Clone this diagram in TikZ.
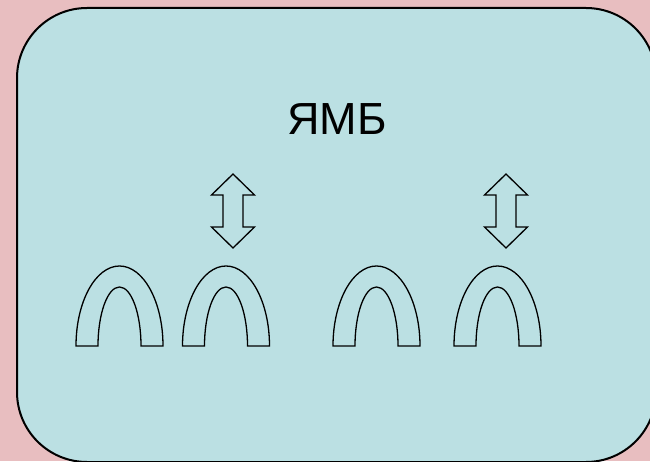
\documentclass[tikz,border=0pt]{standalone}
\usepackage{fontspec}
\setmainfont{Liberation Sans}
\definecolor{pinkbg}{HTML}{E8BEC0}
\definecolor{cyanbox}{HTML}{BBE0E3}
\tikzset{%
  % Specifications for style of shapes:
       outline/.style = {draw=black, line width=1.3pt, line join=miter},
        panel/.style = {draw=black, line width=2pt, fill=cyanbox,
                        rounded corners=70pt},
  arch/.pic = {
    \path[outline] (-43.5,0) arc[start angle=180, end angle=0,
                                 x radius=43.5pt, y radius=80pt]
          -- (21.5,0) arc[start angle=0, end angle=180,
                          x radius=21.5pt, y radius=59pt] -- cycle;
  },
  updown/.pic = {
    \path[outline] (0,37) -- (21.5,16) -- (10,16) -- (10,-16) -- (21.5,-16)
          -- (0,-37) -- (-21.5,-16) -- (-10,-16) -- (-10,16) -- (-21.5,16)
          -- cycle;
  },
}
\begin{document}
\begin{tikzpicture}[x=1pt, y=1pt]
\useasboundingbox (0,0) rectangle (650,461);
\fill[pinkbg] (0,0) rectangle (650,461);

\draw[panel] (17,453) rectangle (656,-1);

\node (title) at (337,342) {\fontsize{45}{54}\selectfont ЯМБ};

\pic (swapA) at (233,250) {updown};
\pic (swapB) at (506,250) {updown};

\pic (footA) at (119.5,115) {arch};
\pic (footB) at (226,115)   {arch};
\pic (footC) at (376.5,115) {arch};
\pic (footD) at (497.5,115) {arch};
\end{tikzpicture}
\end{document}
